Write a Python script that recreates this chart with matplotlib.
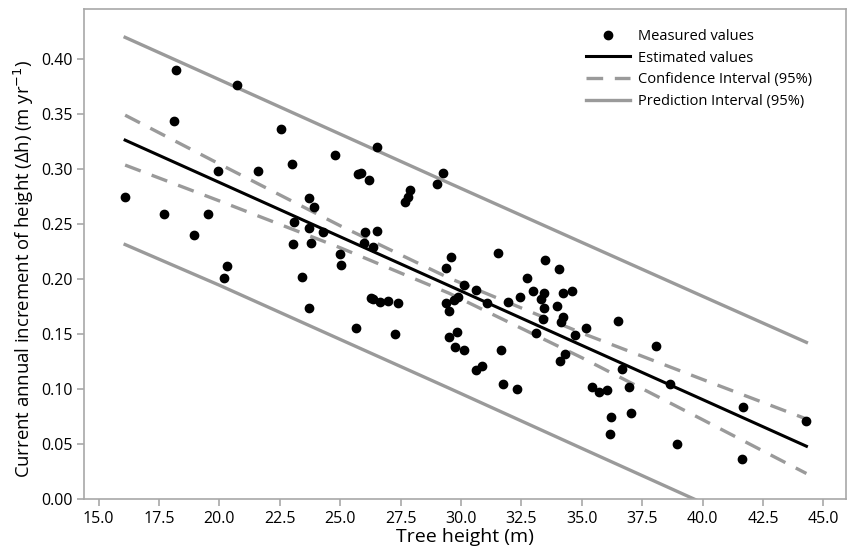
import numpy as np
import matplotlib
matplotlib.use('Agg')
import matplotlib.pyplot as plt
from matplotlib.ticker import FormatStrFormatter, MultipleLocator

# measured points (tree height in m, increment in m/yr)
height = [18.21, 20.75, 18.14, 19.94, 21.62, 16.10, 17.71, 19.51, 18.95, 20.31,
          20.18, 22.56, 26.53, 24.79, 23.00, 25.73, 25.87, 26.21, 27.90, 27.79,
          27.70, 29.00, 29.27, 23.73, 23.92, 23.11, 23.73, 24.28, 26.04, 26.53,
          25.97, 26.34, 23.05, 23.80, 24.99, 25.04, 23.43, 23.73, 26.27, 26.34,
          26.66, 26.96, 27.40, 25.65, 27.28, 31.55, 29.57, 29.38, 33.49, 34.04,
          32.73, 30.12, 30.63, 29.86, 29.72, 29.39, 29.51, 31.07, 31.93, 32.43,
          32.98, 33.42, 33.31, 34.22, 34.59, 33.43, 33.97, 34.22, 33.38, 34.14,
          33.12, 34.73, 29.83, 29.51, 29.76, 30.12, 31.67, 34.30, 34.11, 30.89,
          30.64, 31.74, 32.30, 36.52, 35.16, 38.07, 36.65, 38.64, 35.41, 35.73,
          36.03, 36.97, 36.21, 37.02, 36.15, 38.94, 41.67, 44.30, 41.62]
increment = [0.390, 0.377, 0.344, 0.298, 0.298, 0.275, 0.259, 0.259, 0.240, 0.212,
             0.201, 0.337, 0.320, 0.313, 0.305, 0.296, 0.297, 0.290, 0.281, 0.275,
             0.270, 0.287, 0.297, 0.274, 0.266, 0.252, 0.247, 0.243, 0.243, 0.244,
             0.233, 0.229, 0.232, 0.233, 0.223, 0.213, 0.202, 0.174, 0.183, 0.182,
             0.179, 0.180, 0.178, 0.156, 0.150, 0.224, 0.220, 0.210, 0.217, 0.209,
             0.201, 0.195, 0.190, 0.184, 0.181, 0.178, 0.171, 0.178, 0.179, 0.184,
             0.189, 0.187, 0.182, 0.187, 0.189, 0.174, 0.176, 0.166, 0.164, 0.161,
             0.151, 0.149, 0.152, 0.147, 0.138, 0.136, 0.136, 0.132, 0.126, 0.121,
             0.117, 0.105, 0.100, 0.162, 0.156, 0.139, 0.118, 0.105, 0.102, 0.097,
             0.099, 0.102, 0.075, 0.078, 0.059, 0.050, 0.084, 0.071, 0.036]

# fitted line and bands, read at a few heights
line_x = [16.1, 20.0, 25.0, 29.5, 35.0, 40.0, 44.3]
estimated = [0.3265, 0.2880, 0.2386, 0.1942, 0.1398, 0.0905, 0.0480]
ci_upper = [0.3492, 0.3048, 0.2486, 0.2011, 0.1510, 0.1088, 0.0728]
ci_lower = [0.3038, 0.2712, 0.2286, 0.1873, 0.1286, 0.0722, 0.0232]
pi_upper = [0.4200, 0.3815, 0.3320, 0.2875, 0.2335, 0.1845, 0.1425]
pi_lower = [0.2315, 0.1945, 0.1452, 0.1009, 0.0461, -0.0035, -0.0465]

plt.rcParams['font.family'] = ['Open Sans', 'DejaVu Sans']
grey = '#9a9a9a'

fig = plt.figure(figsize=(8.49, 5.55), dpi=100)
ax = fig.add_axes([0.0993, 0.1009, 0.8975, 0.8823])

ax.plot(line_x, pi_upper, color=grey, lw=2.4, label='Prediction Interval (95%)')
ax.plot(line_x, pi_lower, color=grey, lw=2.4)
ax.plot(line_x, ci_upper, color=grey, lw=2.4, dashes=(5, 3.5), label='Confidence Interval (95%)')
ax.plot(line_x, ci_lower, color=grey, lw=2.4, dashes=(5, 3.5))
ax.plot(line_x, estimated, color='black', lw=2.2, label='Estimated values')
ax.plot(height, increment, 'o', color='black', ms=6, ls='none', label='Measured values')

ax.set_xlim(14.41, 45.95)
ax.set_ylim(0, 0.4455)
ax.xaxis.set_major_locator(MultipleLocator(2.5))
ax.yaxis.set_major_locator(MultipleLocator(0.05))
ax.xaxis.set_major_formatter(FormatStrFormatter('%.1f'))
ax.yaxis.set_major_formatter(FormatStrFormatter('%.2f'))

for s in ax.spines.values():
    s.set_color('#a8a8a8')
    s.set_linewidth(1.2)
ax.tick_params(colors='#a8a8a8', labelcolor='black', labelsize=11.5, length=5, width=1.2)

ax.set_xlabel('Tree height (m)', fontsize=14, labelpad=1)
ax.set_ylabel('Current annual increment of height (\u0394h) (m yr$^{-1}$)', fontsize=13.3)
ax.yaxis.set_label_coords(-0.064, 0.47)

h, l = ax.get_legend_handles_labels()
order = [3, 2, 1, 0]
ax.legend([h[i] for i in order], [l[i] for i in order], frameon=False, fontsize=10.5,
          loc='upper left', bbox_to_anchor=(586 / 849, 1 - 29 / 555),
          bbox_transform=fig.transFigure, borderpad=0, borderaxespad=0,
          handlelength=3.0, handletextpad=0.6, labelspacing=0.45)

fig.savefig('out.png', dpi=100)
